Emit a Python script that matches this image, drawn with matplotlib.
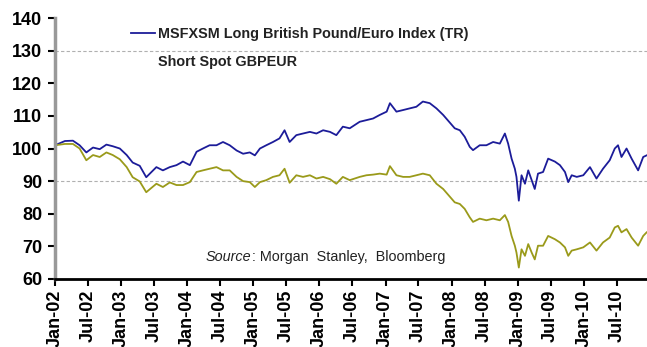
import pandas as pd
import matplotlib
matplotlib.use("Agg")
from matplotlib import pyplot as plt
import matplotlib.dates as mdates

# index levels (rebased to 100 at Jan-02)
dates = [
    "2002-01-01", "2002-02-25", "2002-04-10", "2002-05-17", "2002-06-23", "2002-07-30",
    "2002-09-05", "2002-10-12", "2002-11-16", "2002-12-25", "2003-02-01", "2003-03-06",
    "2003-04-14", "2003-05-20", "2003-07-15", "2003-08-20", "2003-09-27", "2003-11-03",
    "2003-12-09", "2004-01-16", "2004-02-22", "2004-03-28", "2004-05-04", "2004-06-11",
    "2004-07-17", "2004-08-23", "2004-09-30", "2004-11-05", "2004-12-12", "2005-01-09",
    "2005-02-06", "2005-03-13", "2005-04-19", "2005-05-25", "2005-06-22", "2005-07-20",
    "2005-08-26", "2005-10-02", "2005-11-09", "2005-12-15", "2006-01-21", "2006-02-28",
    "2006-04-04", "2006-05-10", "2006-06-17", "2006-08-11", "2006-09-17", "2006-10-24",
    "2006-11-30", "2007-01-07", "2007-01-25", "2007-03-02", "2007-04-08", "2007-05-14",
    "2007-06-20", "2007-07-26", "2007-09-02", "2007-10-09", "2007-11-15", "2007-12-10",
    "2008-01-18", "2008-02-15", "2008-03-13", "2008-04-10", "2008-04-28", "2008-06-04",
    "2008-07-11", "2008-08-17", "2008-09-23", "2008-10-21", "2008-11-08", "2008-11-27",
    "2008-12-15", "2008-12-24", "2009-01-06", "2009-01-21", "2009-02-09", "2009-02-27",
    "2009-03-18", "2009-04-04", "2009-04-22", "2009-05-20", "2009-06-17", "2009-07-24",
    "2009-08-21", "2009-09-18", "2009-10-06", "2009-10-25", "2009-11-22", "2009-12-28",
    "2010-02-03", "2010-03-11", "2010-04-16", "2010-05-23", "2010-06-20", "2010-07-08",
    "2010-07-27", "2010-08-24", "2010-09-21", "2010-10-27", "2010-11-24", "2010-12-13",
]

msfxsm = [
    101.0, 102.3, 102.4, 101.0, 98.8, 100.3,
    99.8, 101.2, 100.7, 100.0, 98.0, 95.7,
    94.7, 91.2, 94.3, 93.3, 94.3, 94.9,
    96.0, 94.9, 99.0, 100.0, 101.0, 101.0,
    102.0, 101.0, 99.4, 98.4, 98.8, 97.9,
    100.0, 101.0, 102.0, 103.1, 105.6, 102.0,
    104.1, 104.6, 105.1, 104.6, 105.6, 105.1,
    104.1, 106.7, 106.2, 108.2, 108.7, 109.2,
    110.3, 111.3, 113.9, 111.3, 111.8, 112.3,
    112.8, 114.4, 113.9, 112.3, 110.3, 108.7,
    106.2, 105.6, 103.6, 100.5, 99.5, 101.0,
    101.0, 102.0, 101.5, 104.6, 101.5, 96.9,
    93.8, 91.3, 84.0, 91.8, 89.2, 93.3,
    90.3, 87.6, 92.3, 92.8, 96.9, 96.0,
    94.9, 92.8, 89.7, 91.8, 91.3, 91.8,
    94.3, 90.8, 93.8, 96.4, 100.0, 101.0,
    97.4, 100.0, 96.9, 93.3, 97.4, 97.9,
]

spot = [
    101.0, 101.4, 101.4, 100.0, 96.4, 98.0,
    97.4, 98.8, 98.0, 96.7, 94.3, 91.2,
    89.9, 86.6, 89.2, 88.2, 89.6, 88.8,
    88.8, 89.7, 92.8, 93.3, 93.8, 94.3,
    93.3, 93.3, 91.3, 90.0, 89.7, 88.2,
    89.7, 90.3, 91.3, 91.8, 93.8, 89.5,
    91.8, 91.3, 91.8, 90.8, 91.3, 90.6,
    89.2, 91.3, 90.3, 91.3, 91.8, 92.0,
    92.3, 92.0, 94.6, 91.8, 91.3, 91.3,
    91.8, 92.3, 91.8, 89.2, 87.6, 86.0,
    83.5, 83.0, 81.5, 78.9, 77.5, 78.5,
    78.0, 78.5, 78.0, 79.6, 77.5, 73.2,
    70.2, 68.1, 63.5, 69.1, 67.1, 70.7,
    68.1, 66.0, 70.2, 70.2, 73.2, 72.2,
    71.2, 69.7, 67.1, 68.7, 69.1, 69.7,
    71.2, 68.7, 71.2, 72.7, 75.8, 76.3,
    74.3, 75.3, 72.7, 70.2, 73.2, 74.3,
]

labels = ["MSFXSM Long British Pound/Euro Index (TR)", "Short Spot GBPEUR"]
t = pd.to_datetime(dates)

plt.rcParams['font.family'] = ['Liberation Sans', 'DejaVu Sans']

fig = plt.figure(figsize=(6.47, 3.47), dpi=100)
ax = fig.add_axes([0.085, 0.196, 0.915, 0.752])

l1, = ax.plot(t, msfxsm, color='#1c1c99', lw=1.3)
l2, = ax.plot(t, spot, color='#9a9a1a', lw=1.3)

for lev in (90, 130):
    ax.axhline(lev, color='#b0b0b0', lw=0.8, ls=(0, (3, 2)), zorder=0)

ax.set_ylim(60, 140)
ax.set_yticks(range(60, 141, 10))
ax.set_xlim(pd.Timestamp("2002-01-01"), pd.Timestamp("2010-12-15"))
ax.xaxis.set_major_locator(mdates.MonthLocator(bymonth=(1, 7)))
ax.xaxis.set_major_formatter(mdates.DateFormatter('%b-%y'))

for lab in ax.get_yticklabels():
    lab.set_fontweight('bold')
    lab.set_fontsize(13)
for lab in ax.get_xticklabels():
    lab.set_fontweight('bold')
    lab.set_fontsize(13)
    lab.set_rotation(90)

ax.tick_params(axis='y', length=5, width=1.5, direction='out', pad=4)
ax.tick_params(axis='x', length=5, width=1.5, direction='out', pad=3)

ax.spines['top'].set_visible(False)
ax.spines['right'].set_visible(False)
ax.spines['left'].set_color('#999999')
ax.spines['left'].set_linewidth(2.5)
ax.spines['bottom'].set_color('black')
ax.spines['bottom'].set_linewidth(2)

leg = ax.legend([l1, l2], labels, loc='upper left', bbox_to_anchor=(0.128, 0.966),
                frameon=False, borderpad=0, borderaxespad=0, handlelength=1.7,
                handletextpad=0.2, labelspacing=0.95,
                prop={'weight': 'bold', 'size': 10.4})
leg.legend_handles[1].set_visible(False)
for txt in leg.get_texts():
    txt.set_color('#222222')

src = ax.text(0.255, 0.085, 'Source', style='italic', fontsize=10.4,
              transform=ax.transAxes, color='#222222', va='center')
ax.annotate(': Morgan  Stanley,  Bloomberg', xy=(1, 0.5), xycoords=src,
            va='center', fontsize=10.4, color='#222222')

fig.savefig('out.png', dpi=100)
